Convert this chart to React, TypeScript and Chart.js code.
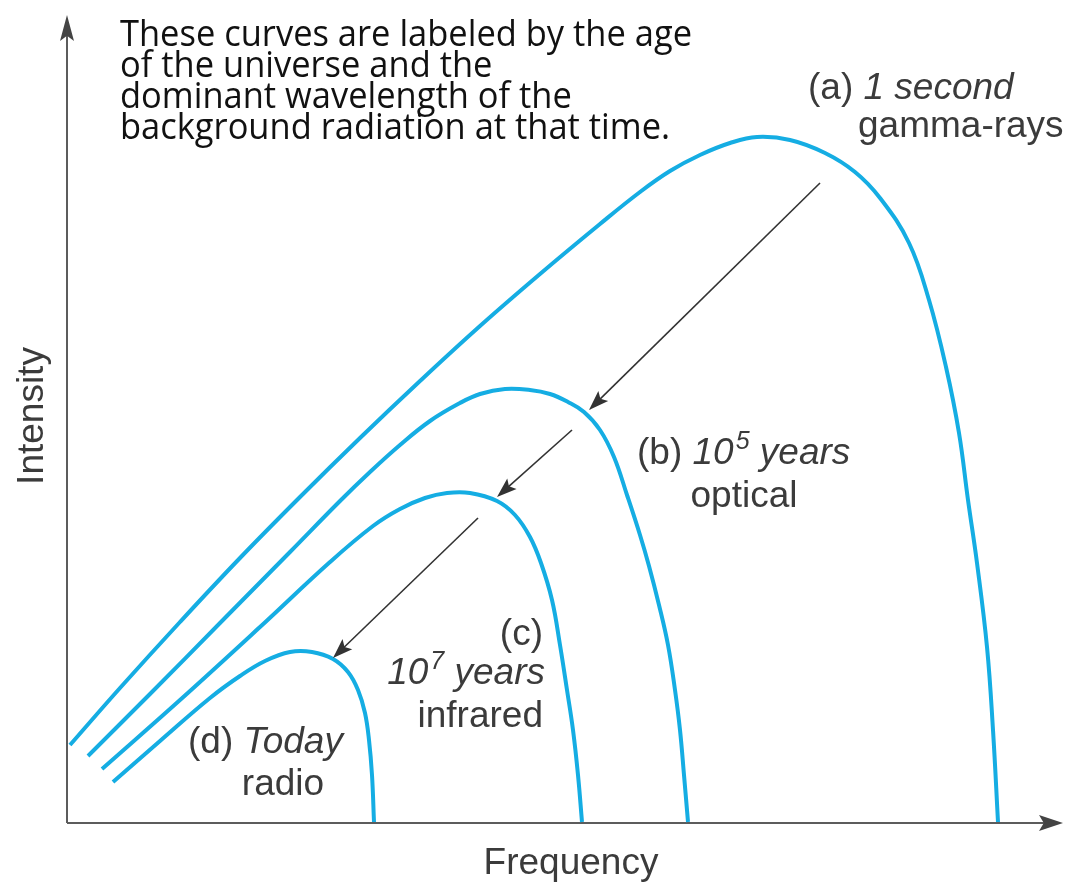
import React, { useEffect, useRef } from 'react';
import { Chart, registerables } from 'chart.js';

Chart.register(...registerables);

// ---- Data (frequency / intensity, arbitrary units) ----
const freqA = [3, 53, 113, 173, 233, 293, 353, 413, 473, 533, 573, 603, 633, 663, 690, 723, 758, 788, 813, 842, 862, 879, 892, 901, 910, 920, 926, 931];
const intA = [78, 135, 201, 265, 326, 385, 442, 497, 549, 599, 631, 652, 668, 680, 686, 683, 670, 651, 625, 580, 523, 456, 390, 323, 260, 176, 93, 1];

const freqB = [21, 83, 153, 223, 273, 303, 333, 363, 393, 413, 438, 463, 483, 501, 517, 533, 547, 560, 573, 582, 592, 601, 608, 613, 617, 621];
const intB = [67, 129, 200, 271, 322, 351, 378, 402, 420, 429, 434, 433, 429, 421, 411, 393, 366, 328, 288, 257, 218, 178, 133, 93, 48, 1];

const freqC = [35, 113, 193, 263, 306, 333, 358, 380, 403, 430, 448, 463, 474, 485, 493, 500, 506, 511, 515];
const intC = [54, 123, 196, 261, 297, 314, 325, 330, 330, 322, 308, 286, 260, 223, 178, 133, 93, 48, 1];

const freqD = [46, 93, 143, 173, 198, 223, 245, 266, 281, 291, 298, 302, 305, 307];
const intD = [41, 82, 125, 147, 162, 171, 171, 164, 151, 133, 110, 83, 48, 1];

const seriesNames = ['(a) 1 second', '(b) 10^5 years', '(c) 10^7 years', '(d) Today'];

// arrows showing the shift of the peak (from -> to)
const arrowFromX = [753, 505, 411];
const arrowFromY = [640, 393, 305];
const arrowToX = [522, 430, 266];
const arrowToY = [413, 326, 165];

const X_MAX = 996;
const Y_MAX = 808;

const noteLines = [
  'These curves are labeled by the age',
  'of the universe and the',
  'dominant wavelength of the',
  'background radiation at that time.',
];

const CURVE_COLOR = '#15ade3';
const TEXT_COLOR = '#3b3b3b';
const LABEL_FONT = 'Liberation Sans, Arial, sans-serif';

type Run = { t: string; it?: boolean; sup?: boolean };

function runFont(r: Run, size: number) {
  const s = r.sup ? Math.round(size * 0.68) : size;
  return `${r.it ? 'italic ' : ''}${s}px ${LABEL_FONT}`;
}

function drawRuns(ctx: CanvasRenderingContext2D, runs: Run[], x: number, y: number, align: 'left' | 'right' | 'center', size = 37) {
  let total = 0;
  const widths = runs.map((r) => {
    ctx.font = runFont(r, size);
    const w = ctx.measureText(r.t).width;
    total += w;
    return w;
  });
  let cx = x;
  if (align === 'right') cx = x - total;
  if (align === 'center') cx = x - total / 2;
  ctx.textAlign = 'left';
  ctx.textBaseline = 'alphabetic';
  runs.forEach((r, i) => {
    ctx.font = runFont(r, size);
    ctx.fillText(r.t, cx + (r.sup ? 2 : 0), r.sup ? y - size * 0.4 : y);
    cx += widths[i] + (r.sup ? 2 : 0);
  });
}

function arrowHead(ctx: CanvasRenderingContext2D, tx: number, ty: number, ang: number, len: number, half: number) {
  ctx.beginPath();
  ctx.moveTo(tx, ty);
  ctx.lineTo(tx - len * Math.cos(ang) + half * Math.sin(ang), ty - len * Math.sin(ang) - half * Math.cos(ang));
  ctx.lineTo(tx - len * Math.cos(ang) * 0.8, ty - len * Math.sin(ang) * 0.8);
  ctx.lineTo(tx - len * Math.cos(ang) - half * Math.sin(ang), ty - len * Math.sin(ang) + half * Math.cos(ang));
  ctx.closePath();
  ctx.fill();
}

const axesPlugin = {
  id: 'axesPlugin',
  beforeDatasetsDraw(chart: any) {
    const { ctx, scales } = chart;
    const xs = scales.x;
    const ys = scales.y;
    const x0 = xs.getPixelForValue(0);
    const y0 = ys.getPixelForValue(0);
    const xEnd = xs.getPixelForValue(X_MAX);
    const yEnd = ys.getPixelForValue(Y_MAX);
    ctx.save();
    ctx.strokeStyle = '#5c5c5c';
    ctx.fillStyle = '#444';
    ctx.lineWidth = 2;
    ctx.beginPath();
    ctx.moveTo(x0, y0);
    ctx.lineTo(x0, yEnd + 18);
    ctx.moveTo(x0, y0);
    ctx.lineTo(xEnd - 18, y0);
    ctx.stroke();
    arrowHead(ctx, x0, yEnd, -Math.PI / 2, 26, 7);
    arrowHead(ctx, xEnd, y0, 0, 24, 8);
    ctx.restore();
  },
  afterDatasetsDraw(chart: any) {
    const { ctx, scales } = chart;
    const xs = scales.x;
    const ys = scales.y;
    ctx.save();
    // peak-shift arrows
    ctx.strokeStyle = '#333';
    ctx.fillStyle = '#333';
    ctx.lineWidth = 1.6;
    for (let i = 0; i < arrowFromX.length; i++) {
      const fx = xs.getPixelForValue(arrowFromX[i]);
      const fy = ys.getPixelForValue(arrowFromY[i]);
      const tx = xs.getPixelForValue(arrowToX[i]);
      const ty = ys.getPixelForValue(arrowToY[i]);
      const ang = Math.atan2(ty - fy, tx - fx);
      ctx.beginPath();
      ctx.moveTo(fx, fy);
      ctx.lineTo(tx - 14 * Math.cos(ang), ty - 14 * Math.sin(ang));
      ctx.stroke();
      arrowHead(ctx, tx, ty, ang, 20, 7);
    }

    // axis titles
    ctx.fillStyle = TEXT_COLOR;
    ctx.font = `37px ${LABEL_FONT}`;
    ctx.textAlign = 'center';
    ctx.textBaseline = 'alphabetic';
    ctx.fillText('Frequency', 571, 874);
    ctx.save();
    ctx.translate(43, 416);
    ctx.rotate(-Math.PI / 2);
    ctx.fillText('Intensity', 0, 0);
    ctx.restore();

    // curve labels
    drawRuns(ctx, [{ t: '(a) ' }, { t: '1 second', it: true }], 808, 99, 'left');
    drawRuns(ctx, [{ t: 'gamma-rays' }], 858, 137, 'left');
    drawRuns(ctx, [{ t: '(b) ' }, { t: '10', it: true }, { t: '5', it: true, sup: true }, { t: ' years', it: true }], 637, 464, 'left');
    drawRuns(ctx, [{ t: 'optical' }], 744, 507, 'center');
    drawRuns(ctx, [{ t: '(c)' }], 543, 645, 'right');
    drawRuns(ctx, [{ t: '10', it: true }, { t: '7', it: true, sup: true }, { t: ' years', it: true }], 543, 684, 'right');
    drawRuns(ctx, [{ t: 'infrared' }], 543, 727, 'right');
    drawRuns(ctx, [{ t: '(d) ' }, { t: 'Today', it: true }], 188, 753, 'left');
    drawRuns(ctx, [{ t: 'radio' }], 283, 795, 'center');

    // note
    ctx.fillStyle = '#111';
    const noteSize = 37;
    ctx.font = `400 ${noteSize}px "Open Sans", Lato, sans-serif`;
    ctx.textAlign = 'left';
    const w0 = ctx.measureText(noteLines[0]).width;
    const sx = 572 / w0;
    const baselines = [46, 77, 108, 139];
    noteLines.forEach((ln, i) => {
      ctx.save();
      ctx.translate(120, baselines[i]);
      ctx.scale(sx, 1);
      ctx.fillText(ln, 0, 0);
      ctx.restore();
    });
    ctx.restore();
  },
};

export default function App() {
  const ref = useRef<HTMLCanvasElement | null>(null);
  useEffect(() => {
    if (!ref.current) return;
    const mk = (fx: number[], iy: number[]) => fx.map((v, i) => ({ x: v, y: iy[i] }));
    const chart = new Chart(ref.current, {
      type: 'line',
      data: {
        datasets: [
          { label: seriesNames[0], data: mk(freqA, intA) },
          { label: seriesNames[1], data: mk(freqB, intB) },
          { label: seriesNames[2], data: mk(freqC, intC) },
          { label: seriesNames[3], data: mk(freqD, intD) },
        ].map((d) => ({
          ...d,
          borderColor: CURVE_COLOR,
          borderWidth: 4,
          pointRadius: 0,
          fill: false,
          tension: 0.4,
          borderCapStyle: 'butt' as const,
        })),
      },
      options: {
        animation: false,
        responsive: true,
        maintainAspectRatio: false,
        layout: { padding: { left: 67, right: 3, top: 15, bottom: 61 } },
        plugins: { legend: { display: false }, tooltip: { enabled: false } },
        scales: {
          x: { type: 'linear', min: 0, max: X_MAX, display: false },
          y: { type: 'linear', min: 0, max: Y_MAX, display: false },
        },
      },
      plugins: [axesPlugin],
    });
    return () => chart.destroy();
  }, []);
  return (
    <div style={{ position: 'absolute', left: 0, top: 0, width: 1066, height: 884, background: '#fff' }}>
      <canvas ref={ref} />
    </div>
  );
}
